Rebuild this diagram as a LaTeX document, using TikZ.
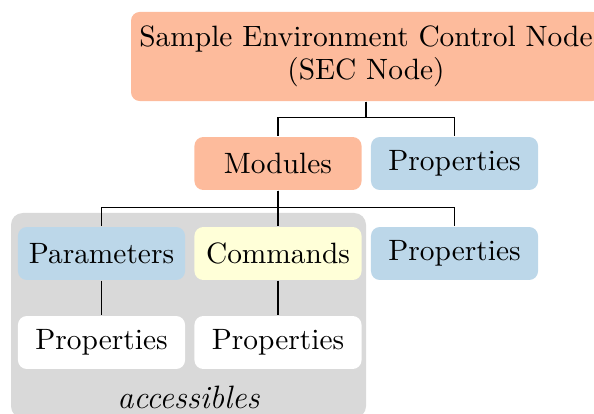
\documentclass[tikz,border=0pt]{standalone}
\definecolor{secorange}{RGB}{253,187,156}
\definecolor{propblue}{RGB}{188,215,233}
\definecolor{cmdyellow}{RGB}{255,255,216}
\definecolor{accgray}{RGB}{217,217,217}
\begin{document}
\begin{tikzpicture}[x=0.34pt,y=-0.34pt,
  box/.style={rounded corners=3pt, minimum width=56.8pt, minimum height=18pt, inner sep=0pt},
  conn/.style={draw=black, line width=0.4pt}]
\useasboundingbox (0,0) rectangle (594,414);
\fill[accgray, rounded corners=4pt] (11,213) rectangle (366,418);
\node[box, fill=secorange, minimum width=159.8pt, minimum height=30.3pt, align=center, font=\fontsize{10}{11.2}\selectfont] (sec) at (366,56.5) {Sample Environment Control Node\\(SEC Node)};
\node[box, fill=secorange] (mod) at (278,163.5) {Modules};
\node[box, fill=propblue] (p1) at (454.5,163.5) {Properties};
\node[box, fill=propblue] (par) at (101.5,253.5) {Parameters};
\node[box, fill=cmdyellow] (cmd) at (278,253.5) {Commands};
\node[box, fill=propblue] (p2) at (454.5,253.5) {Properties};
\node[box, fill=white] (pp) at (101.5,342.5) {Properties};
\node[box, fill=white] (cp) at (278,342.5) {Properties};
\node[font=\fontsize{11}{13}\selectfont\itshape] (acc) at (188.5,397) {accessibles};
\draw[conn] (sec.south) -- ++(0,16) -| (mod.north);
\draw[conn] (sec.south) -- ++(0,16) -| (p1.north);
\draw[conn] (mod.south) -- ++(0,17) -| (par.north);
\draw[conn] (mod.south) -- (cmd.north);
\draw[conn] (mod.south) -- ++(0,17) -| (p2.north);
\draw[conn] (par) -- (pp);
\draw[conn] (cmd) -- (cp);
\end{tikzpicture}
\end{document}
